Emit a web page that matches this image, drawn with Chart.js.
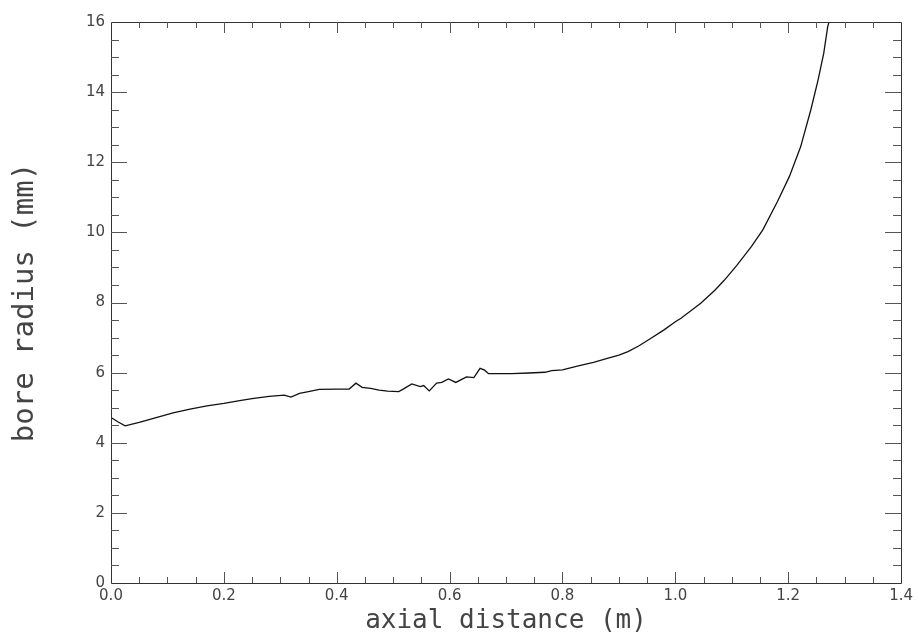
<!DOCTYPE html>
<html>
<head>
<meta charset="utf-8">
<script src="https://cdn.jsdelivr.net/npm/chart.js@4.4.1/dist/chart.umd.min.js"></script>
<style>
  html, body { margin: 0; padding: 0; background: #fff; }
  #wrap { width: 917px; height: 644px; }
</style>
</head>
<body>
<div id="wrap"><canvas id="boreChart" width="917" height="644"></canvas></div>
<script>
// axial position (m) and bore radius (mm)
var axialPos = [
    0.000, 0.012, 0.025, 0.050, 0.080, 0.110, 0.140, 0.170, 0.200, 0.228,
    0.250, 0.280, 0.307, 0.319, 0.334, 0.350, 0.369, 0.400, 0.422, 0.434,
    0.445, 0.460, 0.475, 0.490, 0.510, 0.520, 0.533, 0.548, 0.554, 0.564,
    0.577, 0.586, 0.598, 0.611, 0.630, 0.643, 0.654, 0.662, 0.669, 0.710,
    0.740, 0.769, 0.781, 0.800, 0.828, 0.855, 0.881, 0.900, 0.916, 0.935,
    0.952, 0.980, 1.000, 1.010, 1.045, 1.070, 1.087, 1.110, 1.135, 1.155,
    1.181, 1.202, 1.222, 1.240, 1.253, 1.263, 1.270, 1.274
];
var boreRadius = [
    4.72, 4.60, 4.48, 4.58, 4.72, 4.85, 4.96, 5.05, 5.12, 5.20,
    5.26, 5.32, 5.36, 5.30, 5.41, 5.46, 5.52, 5.53, 5.53, 5.70,
    5.58, 5.55, 5.50, 5.47, 5.46, 5.55, 5.68, 5.60, 5.63, 5.48,
    5.70, 5.72, 5.82, 5.72, 5.88, 5.86, 6.12, 6.07, 5.97, 5.97,
    5.99, 6.01, 6.06, 6.08, 6.19, 6.29, 6.41, 6.50, 6.60, 6.76,
    6.93, 7.22, 7.45, 7.55, 7.98, 8.35, 8.64, 9.08, 9.60, 10.07,
    10.88, 11.59, 12.44, 13.49, 14.35, 15.11, 15.87, 16.10
];

var xMin = 0, xMax = 1.4, xMajor = 0.2, xMinor = 0.05;
var yMin = 0, yMax = 16, yMajor = 2, yMinor = 0.5;

var points = axialPos.map(function (x, i) { return { x: x, y: boreRadius[i] }; });

// frame plus inward ticks on all four sides
var frameTicks = {
    id: 'frameTicks',
    afterDraw: function (chart) {
        var c = chart.ctx, a = chart.chartArea;
        var xs = chart.scales.x, ys = chart.scales.y;
        c.save();
        c.strokeStyle = '#333';
        c.lineWidth = 1;
        c.beginPath();
        c.rect(Math.round(a.left) + 0.5, Math.round(a.top) + 0.5,
            Math.round(a.right - a.left), Math.round(a.bottom - a.top));
        c.stroke();
        c.strokeStyle = '#555';
        c.beginPath();
        var n = Math.round((xMax - xMin) / xMinor);
        for (var i = 1; i < n; i++) {
            var v = xMin + i * xMinor;
            var px = Math.round(xs.getPixelForValue(v)) + 0.5;
            var len = (i % 4 === 0) ? 11 : 6;
            c.moveTo(px, a.bottom); c.lineTo(px, a.bottom - len);
            c.moveTo(px, a.top); c.lineTo(px, a.top + len);
        }
        n = Math.round((yMax - yMin) / yMinor);
        for (var j = 1; j < n; j++) {
            var w = yMin + j * yMinor;
            var py = Math.round(ys.getPixelForValue(w)) + 0.5;
            var ln = (j % 4 === 0) ? 16 : 8;
            c.moveTo(a.left, py); c.lineTo(a.left + ln, py);
            c.moveTo(a.right, py); c.lineTo(a.right - ln, py);
        }
        c.stroke();
        c.restore();
    }
};

new Chart(document.getElementById('boreChart'), {
    type: 'scatter',
    data: {
        datasets: [{
            data: points,
            showLine: true,
            borderColor: '#111',
            borderWidth: 1.3,
            pointRadius: 0,
            tension: 0
        }]
    },
    options: {
        responsive: false,
        animation: false,
        layout: { padding: { top: 22, right: 13, left: 0, bottom: 0 } },
        plugins: { legend: { display: false }, tooltip: { enabled: false } },
        scales: {
            x: {
                type: 'linear', min: xMin, max: xMax,
                grid: { display: false, drawTicks: false },
                border: { display: false },
                ticks: {
                    stepSize: xMajor, padding: 4, color: '#444', maxRotation: 0,
                    font: { family: 'DejaVu Sans', size: 15 },
                    callback: function (v) { return v.toFixed(1); }
                },
                title: {
                    display: true, text: 'axial distance (m)', color: '#444',
                    font: { family: 'DejaVu Sans Mono', size: 26 },
                    padding: { top: 0, bottom: 7 }
                },
                afterFit: function (s) { s.height = 61; }
            },
            y: {
                type: 'linear', min: yMin, max: yMax,
                grid: { display: false, drawTicks: false },
                border: { display: false },
                ticks: {
                    stepSize: yMajor, padding: 6, color: '#444',
                    font: { family: 'DejaVu Sans', size: 15 }
                },
                title: {
                    display: true, text: 'bore radius (mm)', color: '#444',
                    font: { family: 'DejaVu Sans Mono', size: 29 },
                    padding: { top: 8, bottom: 0 }
                },
                afterFit: function (s) { s.width = 111; }
            }
        }
    },
    plugins: [frameTicks]
});
</script>
</body>
</html>
